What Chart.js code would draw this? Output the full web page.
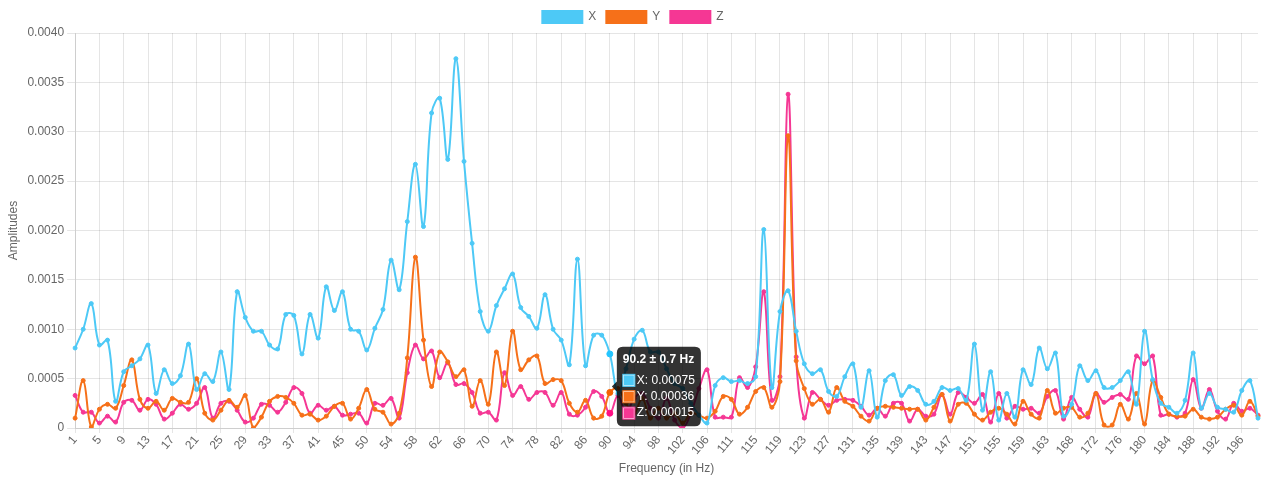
<!DOCTYPE html>
<html>
<head>
<meta charset="utf-8">
<title>Amplitudes by frequency</title>
<script src="https://cdn.jsdelivr.net/npm/chart.js"></script>
<style>
    html, body { margin: 0; padding: 0; background: #ffffff; }
    #wrap { position: relative; width: 1266px; height: 480px; }
</style>
</head>
<body>
<div id="wrap"><canvas id="fftChart"></canvas></div>
<script>
// FFT bins: centre of bin i is (i + 0.5) * binWidth
const binWidth = 1.3565;
const binCount = 147;
const frequencies = Array.from({ length: binCount }, (_, i) => (i + 0.5) * binWidth);

// amplitudes
const ampX = [
    0.00081, 0.00100, 0.00126, 0.00084, 0.00089, 0.00027, 0.00057, 0.00063, 0.00070, 0.00084,
    0.00035, 0.00059, 0.00045, 0.00053, 0.00085, 0.00039, 0.00055, 0.00047, 0.00077, 0.00039,
    0.00138, 0.00112, 0.00098, 0.00098, 0.00084, 0.00080, 0.00115, 0.00114, 0.00075, 0.00115,
    0.00091, 0.00143, 0.00119, 0.00138, 0.00100, 0.00098, 0.00079, 0.00101, 0.00120, 0.00170,
    0.00140, 0.00209, 0.00267, 0.00204, 0.00319, 0.00334, 0.00272, 0.00374, 0.00270, 0.00187,
    0.00118, 0.00098, 0.00124, 0.00141, 0.00156, 0.00122, 0.00113, 0.00101, 0.00135, 0.00100,
    0.00089, 0.00064, 0.00171, 0.00063, 0.00094, 0.00094, 0.00075, 0.00035, 0.00060, 0.00090,
    0.00099, 0.00077, 0.00077, 0.00060, 0.00045, 0.00040, 0.00025, 0.00013, 0.00005, 0.00043,
    0.00051, 0.00047, 0.00048, 0.00045, 0.00052, 0.00201, 0.00041, 0.00118, 0.00139, 0.00098,
    0.00065, 0.00055, 0.00059, 0.00037, 0.00032, 0.00052, 0.00065, 0.00021, 0.00058, 0.00011,
    0.00048, 0.00054, 0.00033, 0.00042, 0.00038, 0.00024, 0.00027, 0.00041, 0.00038, 0.00040,
    0.00028, 0.00085, 0.00018, 0.00057, 0.00008, 0.00035, 0.00011, 0.00059, 0.00044, 0.00081,
    0.00060, 0.00076, 0.00012, 0.00024, 0.00063, 0.00048, 0.00058, 0.00041, 0.00041, 0.00048,
    0.00057, 0.00024, 0.00098, 0.00049, 0.00025, 0.00021, 0.00015, 0.00028, 0.00076, 0.00020,
    0.00035, 0.00021, 0.00019, 0.00016, 0.00038, 0.00048, 0.00010
];
const ampY = [
    0.00010, 0.00048, 0.00001, 0.00019, 0.00024, 0.00020, 0.00043, 0.00069, 0.00029, 0.00020,
    0.00027, 0.00018, 0.00030, 0.00026, 0.00026, 0.00050, 0.00015, 0.00008, 0.00018, 0.00028,
    0.00021, 0.00033, 0.00000, 0.00011, 0.00027, 0.00032, 0.00031, 0.00025, 0.00013, 0.00014,
    0.00008, 0.00012, 0.00022, 0.00025, 0.00009, 0.00020, 0.00039, 0.00019, 0.00016, 0.00004,
    0.00015, 0.00071, 0.00173, 0.00089, 0.00042, 0.00077, 0.00067, 0.00052, 0.00059, 0.00022,
    0.00048, 0.00024, 0.00077, 0.00043, 0.00098, 0.00059, 0.00069, 0.00073, 0.00045, 0.00049,
    0.00048, 0.00025, 0.00016, 0.00028, 0.00010, 0.00012, 0.00036, 0.00040, 0.00025, 0.00015,
    0.00030, 0.00010, 0.00020, 0.00010, 0.00015, 0.00005, 0.00015, 0.00013, 0.00010, 0.00017,
    0.00032, 0.00029, 0.00014, 0.00021, 0.00037, 0.00041, 0.00021, 0.00047, 0.00296, 0.00068,
    0.00040, 0.00024, 0.00029, 0.00016, 0.00041, 0.00027, 0.00022, 0.00012, 0.00007, 0.00020,
    0.00022, 0.00021, 0.00020, 0.00019, 0.00019, 0.00008, 0.00021, 0.00034, 0.00007, 0.00024,
    0.00025, 0.00014, 0.00008, 0.00016, 0.00020, 0.00014, 0.00004, 0.00027, 0.00014, 0.00010,
    0.00038, 0.00015, 0.00020, 0.00021, 0.00011, 0.00015, 0.00035, 0.00003, 0.00003, 0.00024,
    0.00009, 0.00035, 0.00004, 0.00048, 0.00031, 0.00014, 0.00012, 0.00012, 0.00019, 0.00011,
    0.00009, 0.00011, 0.00019, 0.00023, 0.00013, 0.00027, 0.00012
];
const ampZ = [
    0.00033, 0.00016, 0.00016, 0.00005, 0.00012, 0.00006, 0.00026, 0.00028, 0.00018, 0.00029,
    0.00024, 0.00009, 0.00015, 0.00024, 0.00019, 0.00025, 0.00041, 0.00010, 0.00025, 0.00027,
    0.00018, 0.00006, 0.00010, 0.00024, 0.00023, 0.00016, 0.00026, 0.00041, 0.00035, 0.00015,
    0.00023, 0.00018, 0.00022, 0.00013, 0.00014, 0.00015, 0.00005, 0.00025, 0.00023, 0.00030,
    0.00010, 0.00056, 0.00084, 0.00070, 0.00078, 0.00051, 0.00066, 0.00044, 0.00045, 0.00036,
    0.00015, 0.00016, 0.00008, 0.00056, 0.00033, 0.00042, 0.00029, 0.00036, 0.00036, 0.00023,
    0.00036, 0.00014, 0.00013, 0.00021, 0.00037, 0.00032, 0.00015, 0.00033, 0.00015, 0.00030,
    0.00035, 0.00020, 0.00010, 0.00030, 0.00008, 0.00000, 0.00015, 0.00040, 0.00059, 0.00011,
    0.00011, 0.00011, 0.00051, 0.00041, 0.00062, 0.00138, 0.00028, 0.00052, 0.00338, 0.00072,
    0.00010, 0.00036, 0.00029, 0.00023, 0.00028, 0.00029, 0.00028, 0.00022, 0.00013, 0.00020,
    0.00012, 0.00025, 0.00025, 0.00007, 0.00019, 0.00012, 0.00014, 0.00034, 0.00014, 0.00036,
    0.00031, 0.00025, 0.00034, 0.00006, 0.00035, 0.00010, 0.00022, 0.00019, 0.00020, 0.00015,
    0.00032, 0.00038, 0.00009, 0.00031, 0.00019, 0.00011, 0.00035, 0.00026, 0.00031, 0.00034,
    0.00029, 0.00073, 0.00065, 0.00073, 0.00013, 0.00014, 0.00011, 0.00015, 0.00049, 0.00020,
    0.00039, 0.00017, 0.00009, 0.00025, 0.00017, 0.00020, 0.00013
];

const seriesNames = ['X', 'Y', 'Z'];
const seriesColors = ['#4dc9f6', '#f67019', '#f53794'];
const seriesData = [ampX, ampY, ampZ];

// bin that the mouse sits on in the picture
const hoverIndex = 66;

function makeDataset(k) {
    return {
        label: seriesNames[k],
        data: seriesData[k],
        borderColor: seriesColors[k],
        backgroundColor: seriesColors[k],
        borderWidth: 2,
        pointRadius: 2,
        pointBorderWidth: 1,
        pointHoverRadius: 3,
        tension: 0.4,
        fill: false
    };
}

// the legend sits a few pixels right of the plot centre
const legendNudge = {
    id: 'legendNudge',
    afterLayout(chart) {
        chart.legend.left += 3;
        chart.legend.right += 3;
    }
};

const ctx = document.getElementById('fftChart').getContext('2d');

const chart = new Chart(ctx, {
    type: 'line',
    data: {
        labels: frequencies,
        datasets: [0, 1, 2].map(makeDataset)
    },
    plugins: [legendNudge],
    options: {
        responsive: true,
        maintainAspectRatio: false,
        animation: false,
        layout: {
            padding: { top: 1, left: 2, right: 8 }
        },
        interaction: {
            mode: 'index',
            intersect: false
        },
        plugins: {
            legend: {
                position: 'top'
            },
            tooltip: {
                callbacks: {
                    title: function(items) {
                        const f = frequencies[items[0].dataIndex];
                        return f.toFixed(1) + ' ± ' + (binWidth / 2).toFixed(1) + ' Hz';
                    },
                    label: function(context) {
                        return context.dataset.label + ': ' + context.parsed.y.toFixed(5);
                    }
                }
            }
        },
        scales: {
            x: {
                title: {
                    display: true,
                    text: 'Frequency (in Hz)',
                    padding: { top: 4, bottom: 4 }
                },
                grid: {
                    tickLength: 5
                },
                ticks: {
                    autoSkip: false,
                    maxRotation: 50,
                    minRotation: 50,
                    padding: 0,
                    callback: function(value, index) {
                        // every third bin gets a label (and a grid line)
                        return index % 3 === 0 ? Math.round(frequencies[index]) : null;
                    }
                }
            },
            y: {
                min: 0,
                max: 0.004,
                title: {
                    display: true,
                    text: 'Amplitudes'
                },
                ticks: {
                    stepSize: 0.0005
                }
            }
        }
    }
});

const active = [0, 1, 2].map(d => ({ datasetIndex: d, index: hoverIndex }));
chart.setActiveElements(active);
chart.tooltip.setActiveElements(active, { x: 0, y: 0 });
chart.update();
</script>
</body>
</html>
